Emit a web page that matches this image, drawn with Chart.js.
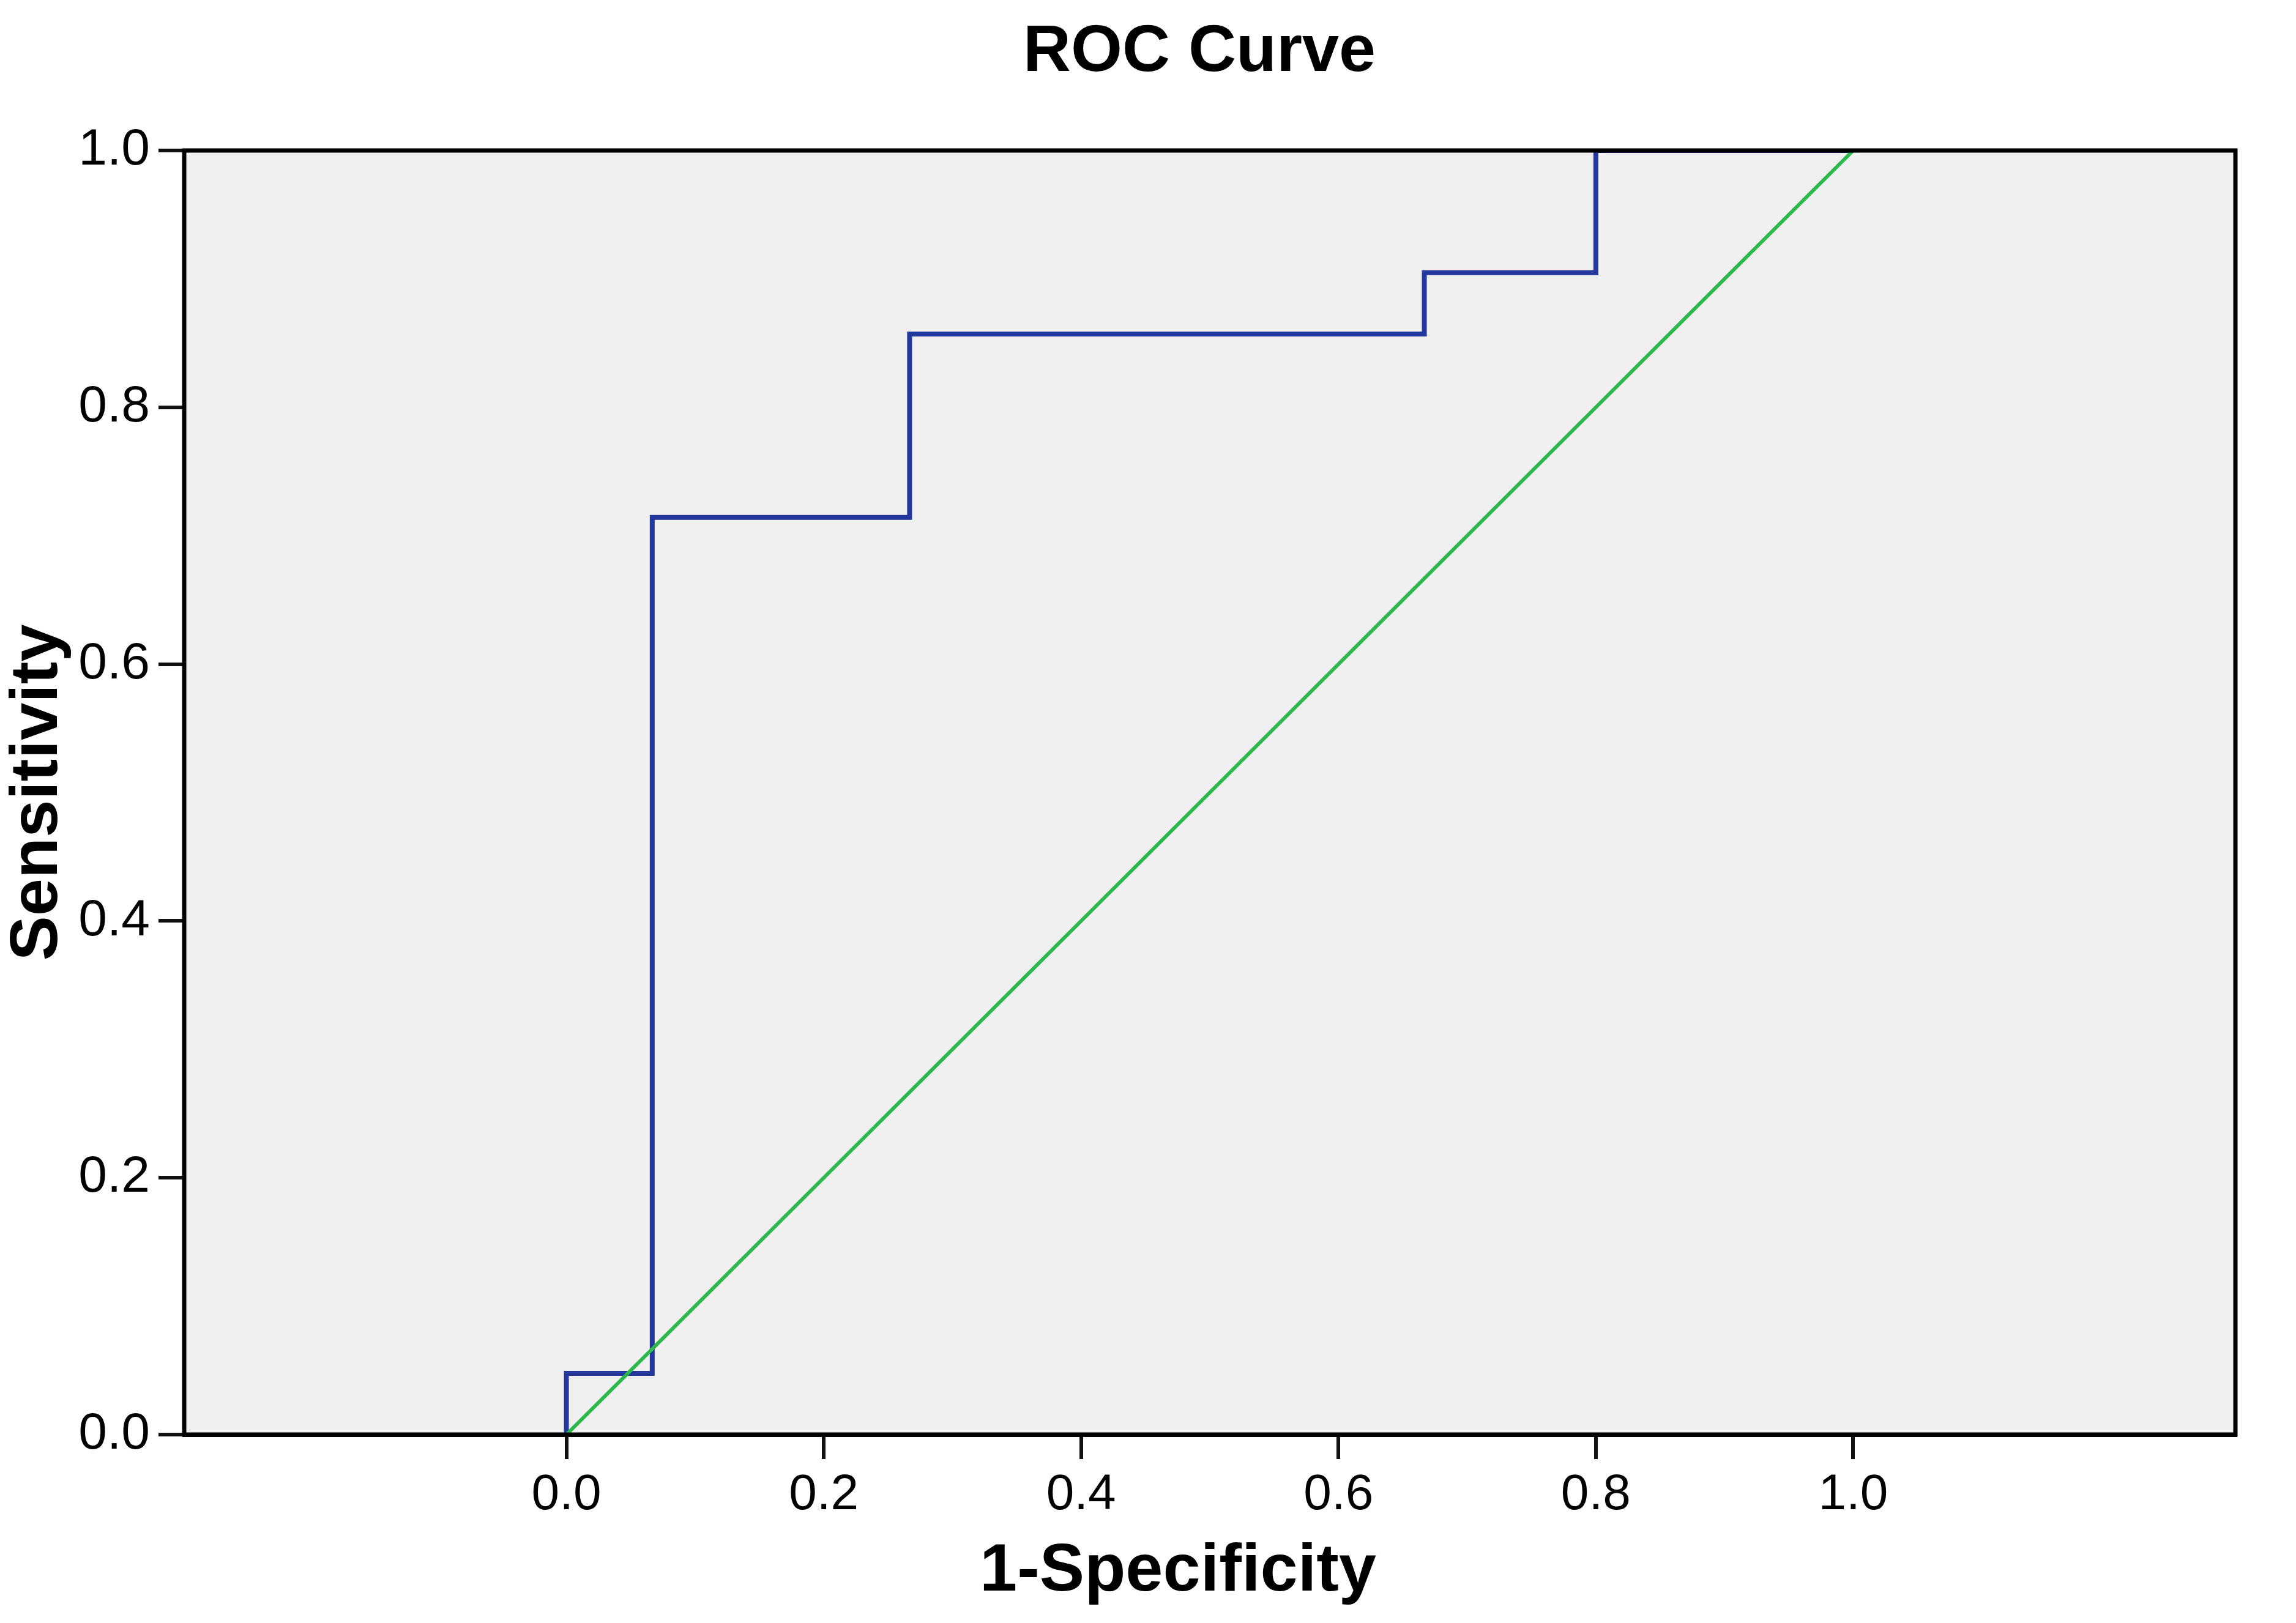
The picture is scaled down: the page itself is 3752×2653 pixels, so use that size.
<!DOCTYPE html>
<html>
<head>
<meta charset="utf-8">
<title>ROC Curve</title>
<script src="https://cdn.jsdelivr.net/npm/chart.js@4.4.1/dist/chart.umd.min.js"></script>
<style>
  html, body { margin: 0; padding: 0; background: #fff; }
  #rocChart { display: block; }
</style>
</head>
<body>
<canvas id="rocChart" width="3752" height="2653" style="width:3752px;height:2653px"></canvas>
<script>
// ROC 좌표 (1-특이도, 민감도)
const rocFpr = [0, 0, 0.0667, 0.0667, 0.2667, 0.2667, 0.6667, 0.6667, 0.8, 0.8, 1.0];
const rocTpr = [0, 0.0476, 0.0476, 0.7143, 0.7143, 0.8571, 0.8571, 0.9048, 0.9048, 1.0, 1.0];
// 기준선
const refX = [0, 1];
const refY = [0, 1];
// 눈금
const xTicks = [0, 0.2, 0.4, 0.6, 0.8, 1.0];
const yTicks = [0, 0.2, 0.4, 0.6, 0.8, 1.0];

const FONT = "'Liberation Sans', Arial, Helvetica, sans-serif";

// 플롯 배경 + 테두리 + 제목들
const plotFrame = {
  id: "plotFrame",
  beforeDatasetsDraw(chart) {
    const { ctx, chartArea: a } = chart;
    ctx.save();
    ctx.fillStyle = "#f0f0f0";
    ctx.fillRect(a.left, a.top, a.right - a.left, a.bottom - a.top);
    ctx.restore();
  },
  afterDatasetsDraw(chart) {
    const { ctx, chartArea: a } = chart;
    ctx.save();
    ctx.strokeStyle = "#000";
    ctx.lineWidth = 7;
    ctx.strokeRect(a.left, a.top, a.right - a.left, a.bottom - a.top);
    ctx.restore();
  },
  afterDraw(chart) {
    const { ctx, chartArea: a } = chart;
    const cx = (a.left + a.right) / 2;
    ctx.save();
    ctx.fillStyle = "#000";
    ctx.textAlign = "center";
    ctx.textBaseline = "middle";
    ctx.font = "bold 108px " + FONT;
    ctx.fillText("ROC Curve", cx - 17, 86);
    // x축 제목 (원본은 살짝 왼쪽에 있음)
    ctx.font = "bold 110px " + FONT;
    ctx.fillText("1-Specificity", cx - 52, 2570);
    ctx.restore();
  },
};

const toPts = (xs, ys) => xs.map((x, i) => ({ x: x, y: ys[i] }));

const ctx = document.getElementById("rocChart");
const rocChart = new Chart(ctx, {
  type: "scatter",
  data: {
    datasets: [
      {
        label: "Reference Line",
        data: toPts(refX, refY),
        showLine: true,
        borderColor: "#2db84d",
        borderWidth: 6,
        pointRadius: 0,
      },
      {
        label: "ROC",
        data: toPts(rocFpr, rocTpr),
        showLine: true,
        borderColor: "#24379c",
        borderWidth: 8,
        pointRadius: 0,
      },
    ],
  },
  options: {
    responsive: false,
    devicePixelRatio: 1,
    animation: false,
    layout: {
      padding: { top: 246, right: 99, bottom: 0, left: 0 },
    },
    plugins: {
      legend: { display: false },
      tooltip: { enabled: false },
    },
    scales: {
      x: {
        type: "linear",
        min: -0.297,
        max: 1.297,
        afterBuildTicks: (scale) => {
          scale.ticks = xTicks.map((v) => ({ value: v }));
        },
        afterFit: (scale) => {
          scale.height = 308;
        },
        grid: {
          drawOnChartArea: false,
          drawTicks: true,
          tickLength: 40,
          color: "#111",
          lineWidth: 6,
        },
        border: { display: true, color: "#000", width: 7 },
        ticks: {
          padding: 10,
          color: "#000",
          font: { family: FONT, size: 82 },
          maxRotation: 0,
          autoSkip: false,
          callback: (v) => Number(v).toFixed(1),
        },
        title: { display: false },
      },
      y: {
        type: "linear",
        min: 0,
        max: 1,
        afterBuildTicks: (scale) => {
          scale.ticks = yTicks.map((v) => ({ value: v }));
        },
        afterFit: (scale) => {
          scale.width = 301;
        },
        grid: {
          drawOnChartArea: false,
          drawTicks: true,
          tickLength: 42,
          color: "#111",
          lineWidth: 6,
        },
        border: { display: true, color: "#000", width: 7 },
        ticks: {
          padding: 14,
          color: "#000",
          font: { family: FONT, size: 84 },
          autoSkip: false,
          callback: (v) => Number(v).toFixed(1),
        },
        title: {
          display: true,
          text: "Sensitivity",
          color: "#000",
          font: { family: FONT, size: 110, weight: "bold", lineHeight: 1.1 },
          padding: { top: 2, bottom: 0 },
        },
      },
    },
  },
  plugins: [plotFrame],
});
</script>
</body>
</html>
